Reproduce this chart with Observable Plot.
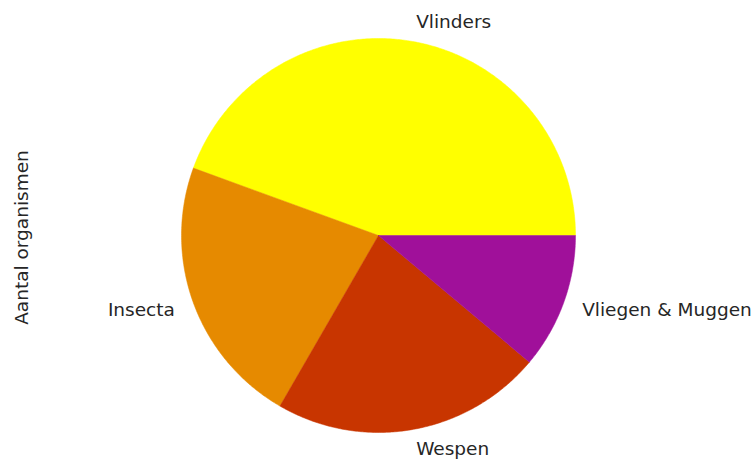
<!DOCTYPE html>
<html>
<head>
<meta charset="utf-8">
<script src="https://cdn.jsdelivr.net/npm/d3@7"></script>
<script src="https://cdn.jsdelivr.net/npm/@observablehq/plot@0.6"></script>
<style>
  html, body { margin: 0; padding: 0; background: #fff; }
  #chart { width: 755px; height: 464px; }
</style>
</head>
<body>
<div id="chart"></div>
<script>
// Data
const categories = ["Vlinders", "Insecta", "Wespen", "Vliegen & Muggen"];
const values = [4, 2, 2, 1];
const colors = ["#ffff00", "#e68a00", "#c83500", "#a0109a"];
const yLabel = "Aantal organismen";

// Pie geometry (matplotlib style: start at 0 rad, counter-clockwise)
const total = d3.sum(values);
const ends = d3.cumsum(values).map(v => v / total * 2 * Math.PI);
const starts = [0, ...ends.slice(0, -1)];

const polys = [];
categories.forEach((cat, i) => {
  const a0 = starts[i], a1 = ends[i];
  const n = Math.max(2, Math.ceil((a1 - a0) / (Math.PI / 360)));
  polys.push({cat, x: 0, y: 0});
  for (let k = 0; k <= n; k++) {
    const a = a0 + (a1 - a0) * k / n;
    polys.push({cat, x: Math.cos(a), y: Math.sin(a)});
  }
  polys.push({cat, x: 0, y: 0});
});

const labels = categories.map((cat, i) => {
  const m = (starts[i] + ends[i]) / 2;
  return {cat, x: 1.1 * Math.cos(m), y: 1.1 * Math.sin(m)};
});

// Pixel layout: center (378,235), radius 197
const W = 755, H = 464, cx = 378, cy = 235, R = 197;
const fs = 18.5;

const chart = Plot.plot({
  width: W,
  height: H,
  margin: 0,
  style: {fontFamily: "DejaVu Sans", background: "#fff"},
  x: {domain: [-cx / R, (W - cx) / R], range: [0, W], axis: null},
  y: {domain: [-(H - cy) / R, cy / R], range: [H, 0], axis: null},
  color: {domain: categories, range: colors},
  marks: [
    Plot.line(polys, {x: "x", y: "y", z: "cat", fill: "cat", stroke: "cat", strokeWidth: 0.5, curve: "linear"}),
    Plot.text(labels.filter(d => d.x >= 0), {x: "x", y: "y", text: "cat", textAnchor: "start", fontSize: fs, fill: "#262626"}),
    Plot.text(labels.filter(d => d.x < 0), {x: "x", y: "y", text: "cat", textAnchor: "end", fontSize: fs, fill: "#262626"}),
    Plot.text([yLabel], {frameAnchor: "left", textAnchor: "middle", dx: 22, dy: 5, rotate: -90, fontSize: fs, fill: "#262626"})
  ]
});
document.getElementById("chart").appendChild(chart);
</script>
</body>
</html>
